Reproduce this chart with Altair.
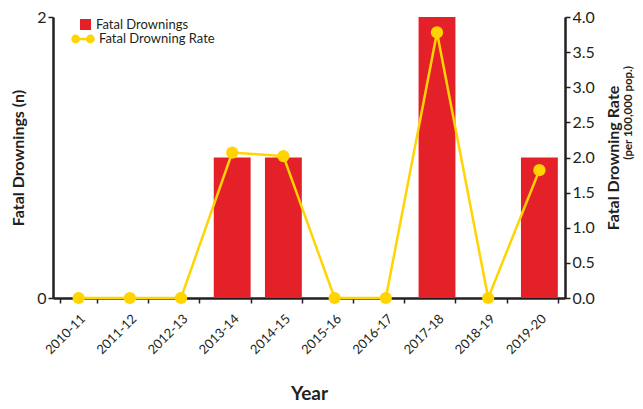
import altair as alt
import pandas as pd

years = ["2010-11", "2011-12", "2012-13", "2013-14", "2014-15",
         "2015-16", "2016-17", "2017-18", "2018-19", "2019-20"]
drownings = [0, 0, 0, 1, 1, 0, 0, 2, 0, 1]
rates = [0, 0, 0, 2.07, 2.02, 0, 0, 3.78, 0, 1.82]
left_ticks = [0, 1, 2]
right_ticks = [0, 0.5, 1.0, 1.5, 2.0, 2.5, 3.0, 3.5, 4.0]
series_bar = "Fatal Drownings"
series_line = "Fatal Drowning Rate"
subtitle = ["(per 100,000 pop.)"]

df = pd.DataFrame({"Year": years, "Drownings": drownings, "Rate": rates,
                   "s1": series_bar, "s2": series_line})

RED = "#E42128"
YEL = "#FFD400"
INK = "#231F20"
FONT = "Lato"
W, H = 512, 281

axis_style = dict(domainColor=INK, domainWidth=2.5, tickColor=INK, tickWidth=1.5,
                  tickSize=5, labelColor=INK, titleColor=INK, grid=False,
                  labelFont=FONT, titleFont=FONT)

x = alt.X("Year:N", sort=years,
          scale=alt.Scale(paddingInner=0.28, paddingOuter=0.14),
          axis=alt.Axis(title="Year", labelAngle=-45, tickBand="extent",
                        labelFontSize=13, titleFontSize=19, titleFontWeight="bold",
                        titlePadding=28, labelPadding=9, **axis_style))

bars = alt.Chart(df).mark_bar(opacity=1).encode(
    x=x,
    y=alt.Y("Drownings:Q", scale=alt.Scale(domain=[0, 2], nice=False),
            axis=alt.Axis(values=left_ticks, format="d", title="Fatal Drownings (n)",
                          titleFontSize=16, titleFontWeight="bold", labelFontSize=16,
                          titlePadding=10, labelPadding=2, **axis_style)),
    color=alt.Color("s1:N", scale=alt.Scale(domain=[series_bar], range=[RED]),
                    legend=alt.Legend(title=None, orient="none", legendX=26, legendY=1,
                                      symbolType="square", symbolSize=121,
                                      symbolStrokeWidth=0, labelFontSize=13,
                                      labelFont=FONT, labelColor=INK, labelOffset=4,
                                      padding=0)),
)

y_rate = alt.Y("Rate:Q", scale=alt.Scale(domain=[0, 4], nice=False),
               axis=alt.Axis(orient="right", values=right_ticks, format=".1f",
                             title="Fatal Drowning Rate", titleFontSize=16,
                             titleFontWeight="bold", labelFontSize=16, titleAngle=270,
                             titlePadding=27, labelPadding=2, **axis_style))

line = alt.Chart(df).mark_line(color=YEL, strokeWidth=2.5).encode(x=x, y=y_rate)

legend_path = ("M-1,0 A0.3,0.3 0 1,1 -0.4,0 A0.3,0.3 0 1,1 -1,0 Z "
               "M-0.4,0 L0.4,0 "
               "M0.4,0 A0.3,0.3 0 1,1 1,0 A0.3,0.3 0 1,1 0.4,0 Z")

points = alt.Chart(df).mark_point(filled=True, size=150, opacity=1).encode(
    x=x, y=y_rate,
    fill=alt.Fill("s2:N", scale=alt.Scale(domain=[series_line], range=[YEL]),
                  legend=alt.Legend(title=None, orient="none", legendX=18, legendY=10,
                                    symbolType=legend_path, symbolSize=441,
                                    symbolFillColor=YEL, symbolStrokeColor=YEL,
                                    symbolStrokeWidth=2.5, labelFontSize=13,
                                    labelFont=FONT, labelColor=INK, labelOffset=4,
                                    padding=0)),
)

rate_layer = alt.layer(line, points)

sub = alt.Chart(pd.DataFrame({"t": subtitle})).mark_text(
    angle=270, align="right", baseline="middle", fontSize=11.5, fontWeight="bold",
    font=FONT, color=INK).encode(x=alt.value(576), y=alt.value(49), text="t:N")

chart = alt.layer(bars, rate_layer, sub).resolve_scale(y="independent").properties(
    width=W, height=H, padding={"left": 2, "top": 1, "right": 0, "bottom": 0},
    background="white",
).configure_view(stroke=None)

chart.save("out.html", embed_options={"renderer": "svg", "actions": False})
